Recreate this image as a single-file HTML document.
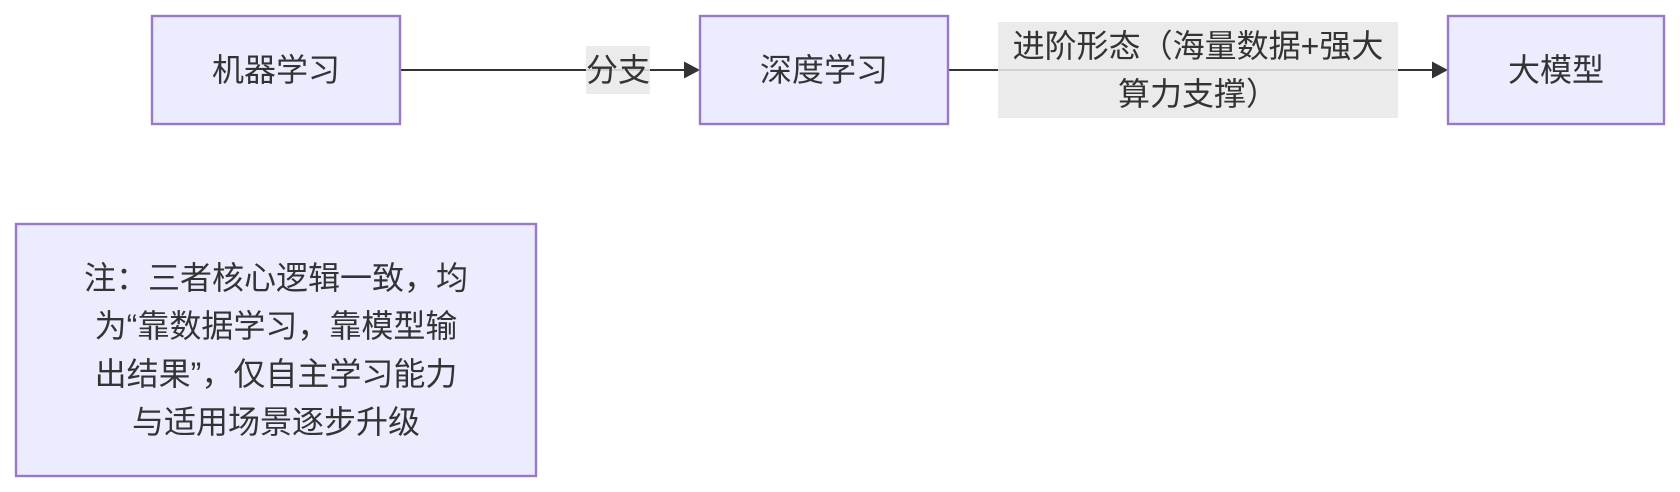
<!DOCTYPE html>
<html lang="zh">
<head>
<meta charset="utf-8">
<style>
html,body{margin:0;padding:0;background:#fff;width:1680px;height:492px;overflow:hidden}
svg{display:block}
text{font-family:"Liberation Sans","Noto Sans CJK SC",sans-serif;font-size:32px;fill:#333;text-anchor:middle}
.n{fill:#ECECFF;stroke:#9879C8;stroke-width:2.4}
.l{fill:#e8e8e8;opacity:.88}
.e{stroke:#333;stroke-width:2;fill:none}
</style>
</head>
<body>
<svg width="1680" height="492" viewBox="0 0 1680 492" xmlns="http://www.w3.org/2000/svg">
<line class="e" x1="400" y1="70" x2="690" y2="70"/>
<polygon points="684,61.5 700,70 684,78.5" fill="#333"/>
<line class="e" x1="948" y1="70" x2="1438" y2="70"/>
<polygon points="1432,61.5 1448,70 1432,78.5" fill="#333"/>

<rect class="n" x="152" y="16" width="248" height="108"/>
<text x="276" y="81">机器学习</text>
<rect class="n" x="700" y="16" width="248" height="108"/>
<text x="824" y="81">深度学习</text>
<rect class="n" x="1448" y="16" width="216" height="108"/>
<text x="1556" y="81">大模型</text>

<rect class="l" x="586" y="46" width="64" height="48"/>
<text x="618" y="81">分支</text>
<rect class="l" x="998" y="22" width="400" height="96"/>
<text x="1198" y="57">进阶形态（海量数据+强大</text>
<text x="1198" y="105">算力支撑）</text>

<rect class="n" x="16" y="224" width="520" height="252"/>
<text x="276" y="289">注：三者核心逻辑一致，均</text>
<text x="276" y="337">为“靠数据学习，靠模型输</text>
<text x="276" y="385">出结果”，仅自主学习能力</text>
<text x="276" y="433">与适用场景逐步升级</text>
</svg>
</body>
</html>
